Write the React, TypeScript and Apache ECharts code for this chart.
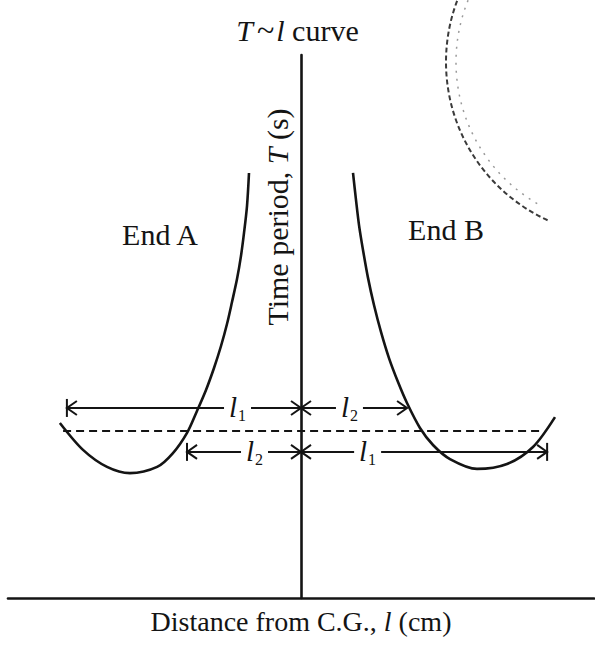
import React, { useEffect, useRef } from 'react';
import * as echarts from 'echarts';

// Distance from the centre of gravity l (cm) and time period T (s) for each end
const endALength = [-82.3, -74.4, -66.2, -58.4, -49.1, -43.7, -38.9, -35.49, -32.42, -29.69, -27.3, -25.26, -23.55, -21.84, -20.48, -19.45, -18.43, -17.75];
const endAPeriod = [0.709, 0.6, 0.531, 0.506, 0.531, 0.587, 0.669, 0.758, 0.843, 0.932, 1.021, 1.11, 1.199, 1.292, 1.386, 1.479, 1.588, 1.722];
const endBLength = [17.75, 18.77, 19.8, 21.16, 22.87, 24.91, 27.3, 30.03, 33.11, 36.18, 40.61, 45.05, 50.85, 60.07, 70.31, 79.18, 86.69];
const endBPeriod = [1.722, 1.613, 1.511, 1.41, 1.297, 1.187, 1.078, 0.972, 0.875, 0.79, 0.689, 0.62, 0.563, 0.523, 0.543, 0.612, 0.733];

// Horizontal reference period (dashed line)
const refPeriod = 0.677;
const refFrom = -81.2;
const refTo = 83.0;

// Equivalent-length spans l1 / l2 marked with arrows
const spanStart = [-79.9, 0, -38.9, 0];
const spanEnd = [0, 36.2, 0, 84.0];
const spanLevel = [0.77, 0.77, 0.592, 0.592];
const spanLabelAt = [-23.2, 15.0, -17.4, 21.2];
const spanSub = ['1', '2', '2', '1'];

const INK = '#141414';
const SERIF = '"Liberation Serif", "Times New Roman", serif';

// which spans get an end bar on their outer end
const outerBar = [true, false, true, true];

function pairs(xs: number[], ys: number[]) {
  return xs.map((x, i) => [x, ys[i]]);
}

function renderSpan(params: any, api: any) {
  const i = params.dataIndex;
  const a = api.coord([api.value(0), api.value(2)]);
  const b = api.coord([api.value(1), api.value(2)]);
  const lab = api.coord([api.value(3), api.value(2)]);
  const y = a[1];
  const left = Math.min(a[0], b[0]);
  const right = Math.max(a[0], b[0]);
  const head = 10;
  const half = 7;
  const st = { stroke: INK, lineWidth: 2, fill: 'none' };
  const children: any[] = [
    { type: 'line', shape: { x1: left, y1: y, x2: lab[0] - 9, y2: y }, style: st },
    { type: 'line', shape: { x1: lab[0] + 18, y1: y, x2: right, y2: y }, style: st },
    { type: 'polyline', shape: { points: [[left + head, y - half], [left, y], [left + head, y + half]] }, style: st },
    { type: 'polyline', shape: { points: [[right - head, y - half], [right, y], [right - head, y + half]] }, style: st },
    {
      type: 'text',
      x: lab[0],
      y: y - 1,
      style: { text: 'l', font: `italic 29px ${SERIF}`, fill: INK, align: 'center', verticalAlign: 'middle' },
    },
    {
      type: 'text',
      x: lab[0] + 9,
      y: y + 8,
      style: { text: spanSub[i], font: `16px ${SERIF}`, fill: INK, align: 'center', verticalAlign: 'middle' },
    },
  ];
  if (outerBar[i]) {
    const xb = api.value(0) !== 0 ? left : right;
    children.push({ type: 'line', shape: { x1: xb, y1: y - 9, x2: xb, y2: y + 9 }, style: st });
  }
  return { type: 'group', children };
}

export default function App() {
  const ref = useRef<HTMLDivElement>(null);

  useEffect(() => {
    document.body.style.margin = '0';
    const chart = echarts.init(ref.current!, null, { renderer: 'svg' });
    const curveStyle = { color: INK, width: 2.6 };
    chart.setOption({
      animation: false,
      backgroundColor: '#ffffff',
      title: {
        text: '{i|T}{t|~}{i|l}{n| curve}',
        left: 'center',
        top: 10,
        textStyle: {
          fontWeight: 'normal',
          rich: {
            i: { fontFamily: SERIF, fontStyle: 'italic', fontWeight: 'normal', fontSize: 30, color: INK, lineHeight: 30 },
            t: { fontFamily: SERIF, fontWeight: 'normal', fontSize: 32, color: INK, lineHeight: 30, padding: [0, 2, 0, 4] },
            n: { fontFamily: SERIF, fontWeight: 'normal', fontSize: 30, color: INK, lineHeight: 30 },
          },
        },
      },
      grid: { left: 8, right: 1, top: 55, bottom: 50, containLabel: false, outerBoundsMode: 'none' },
      xAxis: {
        type: 'value',
        min: -100,
        max: 100,
        name: '{n|Distance from C.G., }{i|l}{n| (cm)}',
        nameLocation: 'middle',
        nameGap: 8,
        nameTextStyle: {
          rich: {
            n: { fontFamily: SERIF, fontSize: 28, color: INK, lineHeight: 30 },
            i: { fontFamily: SERIF, fontStyle: 'italic', fontSize: 28, color: INK, lineHeight: 30 },
          },
        },
        axisLine: { show: true, lineStyle: { color: INK, width: 2.6 } },
        axisTick: { show: false },
        axisLabel: { show: false },
        splitLine: { show: false },
      },
      yAxis: {
        type: 'value',
        min: 0,
        max: 2.2,
        axisLine: { show: true, onZero: true, lineStyle: { color: INK, width: 2.6 } },
        axisTick: { show: false },
        axisLabel: { show: false },
        splitLine: { show: false },
      },
      graphic: [
        {
          type: 'text',
          x: 160,
          y: 234,
          silent: true,
          style: { text: 'End A', font: `30px ${SERIF}`, fill: INK, align: 'center', verticalAlign: 'middle' },
        },
        {
          type: 'text',
          x: 446,
          y: 229,
          silent: true,
          style: { text: 'End B', font: `30px ${SERIF}`, fill: INK, align: 'center', verticalAlign: 'middle' },
        },
        {
          type: 'text',
          x: 277,
          y: 217,
          rotation: Math.PI / 2,
          silent: true,
          style: {
            text: '{a|Time period, }{b|T}{a| (s)}',
            fill: INK,
            align: 'center',
            verticalAlign: 'middle',
            rich: {
              a: { fontFamily: SERIF, fontSize: 30, fill: INK },
              b: { fontFamily: SERIF, fontStyle: 'italic', fontSize: 30, fill: INK },
            },
          },
        },
        {
          type: 'arc',
          silent: true,
          shape: { cx: 620, cy: 62, r: 174, startAngle: 2.0, endAngle: 3.6 },
          style: { stroke: '#3a3a3a', lineWidth: 2, lineDash: [5, 3], fill: 'none' },
        },
        {
          type: 'arc',
          silent: true,
          shape: { cx: 620, cy: 62, r: 164, startAngle: 2.1, endAngle: 3.6 },
          style: { stroke: '#9a9a9a', lineWidth: 1.5, lineDash: [2, 6], fill: 'none' },
        },
      ],
      series: [
        {
          name: 'End A',
          type: 'line',
          data: pairs(endALength, endAPeriod),
          smooth: 0.3,
          showSymbol: false,
          silent: true,
          lineStyle: curveStyle,
        },
        {
          name: 'End B',
          type: 'line',
          data: pairs(endBLength, endBPeriod),
          smooth: 0.3,
          showSymbol: false,
          silent: true,
          lineStyle: curveStyle,
        },
        {
          name: 'Reference',
          type: 'line',
          data: [
            [refFrom, refPeriod],
            [refTo, refPeriod],
          ],
          showSymbol: false,
          silent: true,
          lineStyle: { color: INK, width: 2, type: [8, 5] },
        },
        {
          name: 'Spans',
          type: 'custom',
          coordinateSystem: 'cartesian2d',
          clip: false,
          silent: true,
          encode: { x: [0, 1, 3], y: 2 },
          data: spanStart.map((s, i) => [s, spanEnd[i], spanLevel[i], spanLabelAt[i]]),
          renderItem: renderSpan,
        },
      ],
    });
    return () => chart.dispose();
  }, []);

  return <div ref={ref} style={{ width: 595, height: 648 }} />;
}
